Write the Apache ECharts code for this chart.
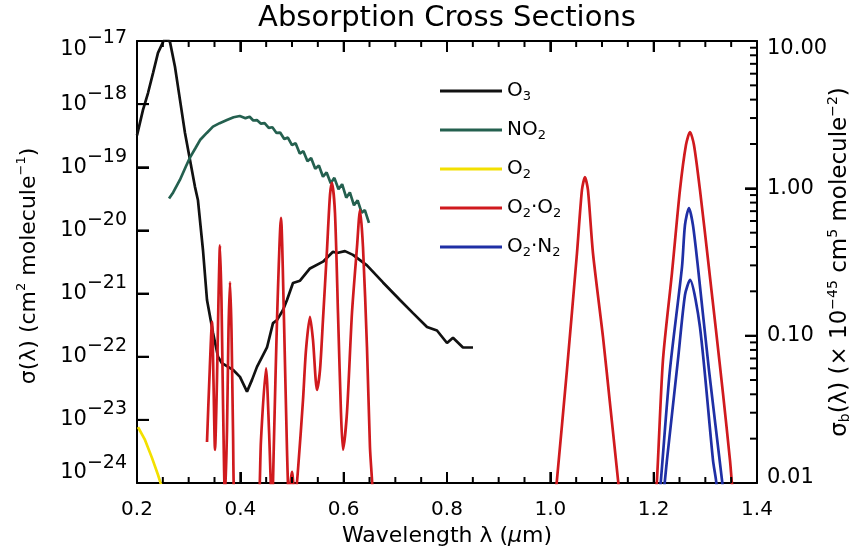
<!DOCTYPE html>
<html><head><meta charset="utf-8">
<script src="https://cdn.jsdelivr.net/npm/echarts@6/dist/echarts.min.js"></script>
<style>html,body{margin:0;padding:0;background:#fff}#c{width:865px;height:554px}</style>
</head><body><div id="c"></div>
<script>
// ---- tick labels / tick positions ----
const xTickValues = [0.2, 0.4, 0.6, 0.8, 1.0, 1.2, 1.4];
const xMinorTickValues = [0.25, 0.3, 0.35, 0.45, 0.5, 0.55, 0.65, 0.7, 0.75, 0.85, 0.9, 0.95,
                          1.05, 1.1, 1.15, 1.25, 1.3, 1.35];
const leftExponents = [-24, -23, -22, -21, -20, -19, -18, -17];
const rightTickValues = [0.01, 0.1, 1, 10];
const rightTickLabels = ['0.01', '0.10', '1.00', '10.00'];
const rightMinorMultipliers = [2, 3, 4, 5, 6, 7, 8, 9];

// ---- series values: [wavelength (um), cross section] ----
const o3 = [
 [0.200,3.2e-19],[0.2116,8.1e-19],[0.2213,1.5e-18],[0.231,3.1e-18],[0.2406,6.5e-18],[0.2503,9.6e-18],
 [0.256,1.15e-17],[0.2639,9.6e-18],[0.2735,3.9e-18],[0.2832,1.17e-18],[0.2929,3.5e-19],[0.3026,1.3e-19],
 [0.3122,4.9e-20],[0.318,3.0e-20],[0.3277,4.9e-21],[0.3355,7.9e-22],[0.3471,2.4e-22],[0.3568,1.0e-22],
 [0.3645,7.9e-23],[0.3858,6.2e-23],[0.3993,4.8e-23],[0.4129,2.8e-23],[0.4226,4.3e-23],[0.4322,6.9e-23],
 [0.4516,1.4e-22],[0.4632,3.4e-22],[0.471,3.8e-22],[0.4826,5.5e-22],[0.4903,7.9e-22],[0.5019,1.47e-21],
 [0.5155,1.6e-21],[0.5348,2.5e-21],[0.560,3.2e-21],[0.5793,4.6e-21],[0.587,4.4e-21],[0.6025,4.7e-21],
 [0.618,4.1e-21],[0.6451,2.8e-21],[0.6761,1.5e-21],[0.709,7.9e-22],[0.7342,4.9e-22],[0.7613,2.95e-22],
 [0.7806,2.6e-22],[0.80,1.65e-22],[0.8116,2.0e-22],[0.8309,1.4e-22],[0.8503,1.4e-22]
];
const no2 = [
 [0.262,3.2e-20],[0.270,4.0e-20],[0.283,6.3e-20],[0.295,1.05e-19],[0.303,1.45e-19],[0.313,2.0e-19],
 [0.322,2.7e-19],[0.335,3.5e-19],[0.347,4.4e-19],[0.360,5.0e-19],[0.374,5.6e-19],[0.387,6.2e-19],
 [0.399,6.5e-19],[0.410,6.0e-19],[0.418,6.3e-19],[0.425,5.5e-19],[0.432,5.6e-19],[0.440,4.9e-19],
 [0.447,5.0e-19],[0.455,4.2e-19],[0.462,4.3e-19],[0.470,3.5e-19],[0.477,3.55e-19],[0.485,2.8e-19],
 [0.492,2.95e-19],[0.500,2.25e-19],[0.507,2.4e-19],[0.515,1.65e-19],[0.522,1.8e-19],[0.530,1.25e-19],
 [0.537,1.4e-19],[0.545,9.5e-20],[0.552,1.07e-19],[0.560,7.1e-20],[0.567,8.3e-20],[0.575,5.6e-20],
 [0.582,6.8e-20],[0.590,4.5e-20],[0.597,5.4e-20],[0.605,3.3e-20],[0.612,4.0e-20],[0.620,2.5e-20],
 [0.627,3.0e-20],[0.635,1.9e-20],[0.641,2.1e-20],[0.649,1.32e-20]
];
const o2 = [
 [0.202,7.7e-24],[0.2155,4.8e-24],[0.229,2.5e-24],[0.2406,1.35e-24],[0.2465,0.95e-24]
];
// O2-O2 (x 1e-45 cm^5 molecule^-2), right axis
const o2o2Visible = [
 [0.3355,0.019],[0.340,0.05],[0.3452,0.124],[0.348,0.05],[0.351,0.0168],[0.3548,0.05],[0.3577,0.175],
 [0.3606,0.41],[0.3635,0.175],[0.3664,0.0366],[0.3703,0.0077],[0.3742,0.0229],[0.3771,0.109],[0.380,0.231],
 [0.3829,0.109],[0.3858,0.0229],[0.3897,0.0056],[0.41,0.002],[0.4342,0.0056],[0.440,0.0196],[0.4497,0.060],
 [0.4555,0.0229],[0.4613,0.0066],[0.4651,0.0196],[0.471,0.128],[0.4787,0.63],[0.4845,0.128],[0.4903,0.0168],
 [0.4942,0.0077],[0.500,0.0119],[0.5058,0.0077],[0.5116,0.0123],[0.5213,0.0366],[0.5271,0.080],[0.5348,0.134],
 [0.5406,0.0935],[0.5484,0.0428],[0.5542,0.0585],[0.560,0.129],[0.5677,0.381],[0.5735,0.90],[0.5774,1.09],
 [0.5832,0.68],[0.589,0.143],[0.5948,0.030],[0.5987,0.0168],[0.6064,0.030],[0.6161,0.143],[0.6258,0.40],
 [0.6316,0.713],[0.6374,0.40],[0.6451,0.0838],[0.6509,0.0175],[0.6548,0.0105],[0.6587,0.0056]
];
const o2o2Band106 = [
 [1.009,0.0077],[1.0128,0.0105],[1.0322,0.0585],[1.0516,0.364],[1.0612,0.975],[1.067,1.19],[1.0728,0.975],
 [1.0825,0.364],[1.1019,0.098],[1.1154,0.0349],[1.131,0.0105],[1.135,0.0077]
];
const o2o2Band127 = [
 [1.2025,0.0077],[1.2064,0.0105],[1.218,0.0684],[1.2354,0.266],[1.2509,0.975],[1.2625,1.97],[1.2703,2.41],
 [1.278,1.97],[1.2896,0.975],[1.307,0.288],[1.3206,0.109],[1.3341,0.0408],[1.3477,0.0143],[1.3516,0.0099],[1.3554,0.0077]
];
const o2n2Upper = [
 [1.2103,0.0077],[1.2141,0.0105],[1.2315,0.0585],[1.2548,0.292],[1.2606,0.564],[1.2683,0.735],[1.276,0.564],
 [1.2857,0.292],[1.307,0.0585],[1.3322,0.0105],[1.3361,0.0077]
];
const o2n2Lower = [
 [1.218,0.0077],[1.2219,0.0105],[1.2257,0.0143],[1.247,0.0684],[1.2606,0.189],[1.2703,0.239],[1.2896,0.1145],
 [1.3148,0.0143],[1.3206,0.0105],[1.3245,0.0077]
];

const FONT = 'DejaVu Sans';
const chart = echarts.init(document.getElementById('c'), null, {renderer: 'canvas'});

const legendNames = {
  'O3': '{t|O}{s|3}', 'NO2': '{t|NO}{s|2}', 'O2': '{t|O}{s|2}',
  'O2·O2': '{t|O}{s|2}{t|·O}{s|2}', 'O2·N2': '{t|O}{s|2}{t|·N}{s|2}'
};
const leftRich = {
  b: {fontFamily: FONT, fontSize: 21, color: '#000', fill: '#000'},
  s: {fontFamily: FONT, fontSize: 19, color: '#000', fill: '#000', padding: [0, 0, 21, 0]},
  bt: {fontFamily: FONT, fontSize: 21, color: '#000', fill: '#000', padding: [18, 0, 0, 0]},
  st: {fontFamily: FONT, fontSize: 19, color: '#000', fill: '#000', padding: [0, 0, 5, 0]},
  bb: {fontFamily: FONT, fontSize: 21, color: '#000', fill: '#000', padding: [8, 0, 0, 0]},
  sb: {fontFamily: FONT, fontSize: 19, color: '#000', fill: '#000', padding: [0, 0, 10, 0]}
};
function supText(e) { return '−' + Math.abs(e); }
function leftLabel(v) {
  const e = Math.round(Math.log10(v));
  if (leftExponents.indexOf(e) < 0) return '';
  if (e === leftExponents[0]) return '';   // drawn below as a separate text at the axis minimum
  if (e === leftExponents[leftExponents.length - 1]) return '{bt|10}{st|' + supText(e) + '}';
  return '{b|10}{s|' + supText(e) + '}';
}
function rightLabel(v) {
  const e = Math.round(Math.log10(v));
  const txt = rightTickLabels[e + 2];
  if (!txt) return '';
  if (e + 2 === rightTickLabels.length - 1) return '{t|' + txt + '}';
  if (e + 2 === 0) return '{m|' + txt + '}';
  return '{n|' + txt + '}';
}

const axisLineStyle = {color: '#000', width: 2};
const tickLineStyle = {color: '#000', width: 2};

function lineSeries(name, data, color, yIdx, smooth) {
  return {
    name: name, type: 'line', data: data, xAxisIndex: 0, yAxisIndex: yIdx,
    symbol: 'none', clip: true, smooth: smooth || false,
    lineStyle: {color: color, width: 2.7}, itemStyle: {color: color},
    emphasis: {disabled: true}, z: 3
  };
}
const RED = '#d01a1e', BLUE = '#1f2fa5', GREEN = '#24604f', BLACK = '#111111', YELLOW = '#f3e000';

// ---- inward tick marks, positioned through the axes' own scales ----
function tickLine(x1, y1, x2, y2) {
  return {type: 'line', shape: {x1: x1, y1: y1, x2: x2, y2: y2}, style: {stroke: '#000', lineWidth: 2}};
}
function xTickSeries(values, len) {
  return {
    type: 'custom', coordinateSystem: 'cartesian2d', xAxisIndex: 0, yAxisIndex: 0, silent: true, clip: false, z: 5,
    data: values.map(v => [v, 1e-20]),
    renderItem: function (params, api) {
      const cs = params.coordSys;
      const x = api.coord([api.value(0), api.value(1)])[0];
      const bottom = cs.y + cs.height, top = cs.y;
      return {type: 'group', children: [tickLine(x, bottom, x, bottom - len), tickLine(x, top, x, top + len)]};
    }
  };
}
function yTickSeries(values, yIdx, side, len) {
  return {
    type: 'custom', coordinateSystem: 'cartesian2d', xAxisIndex: 0, yAxisIndex: yIdx, silent: true, clip: false, z: 5,
    data: values.map(v => [0.8, v]),
    renderItem: function (params, api) {
      const cs = params.coordSys;
      const y = api.coord([api.value(0), api.value(1)])[1];
      const edge = side === 'left' ? cs.x : cs.x + cs.width;
      const dir = side === 'left' ? 1 : -1;
      return tickLine(edge, y, edge + dir * len, y);
    }
  };
}
const leftTickValues = leftExponents.map(e => Math.pow(10, e));
const rightMinorValues = [];
rightTickValues.slice(0, 3).forEach(d => rightMinorMultipliers.forEach(m => rightMinorValues.push(d * m)));

chart.setOption({
  animation: false,
  backgroundColor: '#ffffff',
  graphic: [{
    id: 'title', type: 'text', x: 447, y: 18,
    style: {text: 'Absorption Cross Sections', font: '29px "DejaVu Sans"', fill: '#000',
            textAlign: 'center', textVerticalAlign: 'middle'}
  }, {
    id: 'leftName', type: 'text', x: 29, y: 266, rotation: Math.PI / 2,
    style: {text: '{a|σ(λ) (cm}{p|2}{a| molecule}{p|−1}{a|)}', fill: '#000',
            textAlign: 'center', textVerticalAlign: 'middle',
            rich: {a: {fontFamily: FONT, fontSize: 22, fill: '#000'},
                   p: {fontFamily: FONT, fontSize: 13, fill: '#000', padding: [0, 0, 14, 0]}}}
  }, {
    id: 'rightName', type: 'text', x: 840, y: 262, rotation: Math.PI / 2,
    style: {text: '{a|σ}{b|b}{a|(λ) (× 10}{p|−45}{a| cm}{p|5}{a| molecule}{p|−2}{a|)}', fill: '#000',
            textAlign: 'center', textVerticalAlign: 'middle',
            rich: {a: {fontFamily: FONT, fontSize: 23, fill: '#000'},
                   b: {fontFamily: FONT, fontSize: 14, fill: '#000', padding: [10, 0, 0, 0]},
                   p: {fontFamily: FONT, fontSize: 14, fill: '#000', padding: [0, 0, 14, 0]}}}
  }],
  grid: {left: 137, right: 108, top: 41, bottom: 71, containLabel: false, outerBoundsMode: 'none'},
  legend: {
    show: true, orient: 'vertical', left: 440, top: 81, padding: 0, selectedMode: false,
    itemWidth: 62, itemHeight: 3, itemGap: 16.5, icon: 'rect',
    data: ['O3', 'NO2', 'O2', 'O2·O2', 'O2·N2'],
    formatter: n => legendNames[n],
    textStyle: {fontFamily: FONT, fontSize: 20, color: '#000',
      rich: {t: {fontFamily: FONT, fontSize: 20, color: '#000'},
             s: {fontFamily: FONT, fontSize: 13, color: '#000', padding: [12, 0, 0, 0]}}}
  },
  xAxis: [{
    type: 'value', position: 'bottom', min: 0.2, max: 1.4, interval: 0.2,
    axisLine: {show: true, onZero: false, lineStyle: axisLineStyle},
    axisTick: {show: true, inside: true, length: 11, lineStyle: tickLineStyle},
    minorTick: {show: false},
    splitLine: {show: false}, minorSplitLine: {show: false},
    axisLabel: {margin: 17, fontFamily: FONT, fontSize: 20, color: '#000', showMinLabel: true, showMaxLabel: true,
                formatter: v => (xTickValues.some(t => Math.abs(t - v) < 1e-6) ? v.toFixed(1) : '')},
    name: '{a|Wavelength λ (}{i|µ}{a|m)}', nameLocation: 'middle', nameGap: 41,
    nameTextStyle: {rich: {a: {fontFamily: FONT, fontSize: 22, color: '#000'},
                           i: {fontFamily: FONT, fontSize: 22, color: '#000', fontStyle: 'italic'}}}
  }, {
    type: 'value', position: 'top', min: 0.2, max: 1.4, interval: 0.2,
    axisLine: {show: true, onZero: false, lineStyle: axisLineStyle},
    axisTick: {show: true, inside: true, length: 11, lineStyle: tickLineStyle},
    splitLine: {show: false}, axisLabel: {show: false}
  }],
  yAxis: [{
    type: 'log', logBase: 10, position: 'left', min: 1e-24, max: 1e-17, interval: 1,
    axisLine: {show: true, onZero: false, lineStyle: axisLineStyle},
    axisTick: {show: true, inside: true, length: 12, lineStyle: tickLineStyle},
    splitLine: {show: false}, minorTick: {show: false},
    axisLabel: {margin: 10, formatter: leftLabel, color: '#000', showMinLabel: true, showMaxLabel: true,
      hideOverlap: false, rich: leftRich}
  }, {
    type: 'log', logBase: 10, position: 'right', min: 0.01, max: 10, interval: 1,
    axisLine: {show: true, onZero: false, lineStyle: axisLineStyle},
    axisTick: {show: true, inside: true, length: 12, lineStyle: tickLineStyle},
    splitLine: {show: false}, minorTick: {show: false},
    axisLabel: {margin: 10, formatter: rightLabel, color: '#000', showMinLabel: true, showMaxLabel: true,
      rich: {
        n: {fontFamily: FONT, fontSize: 21, color: '#000'},
        t: {fontFamily: FONT, fontSize: 21, color: '#000', padding: [16, 0, 0, 0]},
        m: {fontFamily: FONT, fontSize: 21, color: '#000', padding: [0, 0, 10, 0]}
      }}
  }],
  series: [
    lineSeries('O3', o3, BLACK, 0),
    lineSeries('NO2', no2, GREEN, 0),
    lineSeries('O2', o2, YELLOW, 0),
    lineSeries('O2·O2', o2o2Visible, RED, 1, 0.25),
    lineSeries('O2·O2', o2o2Band106, RED, 1, 0.25),
    lineSeries('O2·O2', o2o2Band127, RED, 1, 0.25),
    lineSeries('O2·N2', o2n2Upper, BLUE, 1, 0.25),
    lineSeries('O2·N2', o2n2Lower, BLUE, 1, 0.25),
    xTickSeries(xTickValues, 11),
    xTickSeries(xMinorTickValues, 6),
    yTickSeries(leftTickValues, 0, 'left', 12),
    yTickSeries(rightTickValues, 1, 'right', 12),
    yTickSeries(rightMinorValues, 1, 'right', 7)
  ]
});

// bottom tick label of the left axis, placed at the axis minimum through the chart's own scales
const minExp = leftExponents[0];
const yMinPx = chart.convertToPixel({yAxisIndex: 0}, Math.pow(10, minExp));
const xMinPx = chart.convertToPixel({xAxisIndex: 0}, xTickValues[0]);
chart.setOption({
  graphic: [{
    id: 'leftMinLabel', type: 'text', x: xMinPx - 10, y: yMinPx,
    style: {text: '{bb|10}{sb|' + supText(minExp) + '}', fill: '#000',
            textAlign: 'right', textVerticalAlign: 'bottom', rich: leftRich}
  }]
});
</script>
</body></html>
